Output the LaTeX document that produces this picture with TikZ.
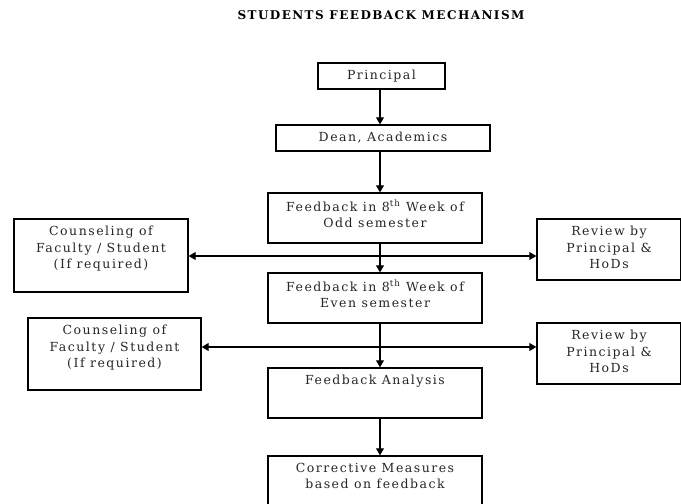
\documentclass[tikz,border=0pt]{standalone}
\usepackage{fontspec}
\setmainfont{DejaVu Serif}[LetterSpace=12]
\usetikzlibrary{arrows.meta}
\pgfdeclarelayer{edgelayer}
\pgfdeclarelayer{nodelayer}
\pgfsetlayers{edgelayer,nodelayer,main}
\tikzstyle{none}=[inner sep=0pt]
\tikzstyle{box}=[rectangle,draw=black,line width=1.4pt,fill=white,inner sep=0pt,text=black!85,font=\fontsize{12.5}{16.5}\selectfont]
\tikzstyle{heading}=[inner sep=0pt,text=black,font=\bfseries\fontsize{12}{12}\selectfont]
\tikzstyle{transition}=[-{Triangle[length=7pt,width=8pt]},draw=black,line width=1.1pt]
\newcommand{\toptext}[3]{\parbox[c][#2pt][t]{#1pt}{\centering\vspace*{7pt}#3}}
\newcommand{\midtext}[3]{\parbox[c][#2pt][c]{#1pt}{\centering #3}}

\begin{document}
\begin{tikzpicture}[x=1pt,y=-1pt]
	\useasboundingbox (0,0) rectangle (681,504);
	\begin{pgfonlayer}{nodelayer}
		\node [style=heading] (t) at (381, 15) {STUDENTS FEEDBACK MECHANISM};
		\node [style=box] (0) at (381.5, 76) {\midtext{127}{26}{Principal}};
		\node [style=box] (1) at (383, 138) {\midtext{214}{26}{Dean, Academics}};
		\node [style=box] (2) at (375, 218) {\toptext{214}{50}{Feedback in 8\textsuperscript{th} Week of\\Odd semester}};
		\node [style=box] (3) at (101, 255.5) {\toptext{174}{73}{Counseling of\\Faculty / Student\\(If required)}};
		\node [style=box] (4) at (609, 249.5) {\toptext{144}{61}{Review by\\Principal \&\\HoDs}};
		\node [style=box] (5) at (375, 298) {\toptext{214}{50}{Feedback in 8\textsuperscript{th} Week of\\Even semester}};
		\node [style=box] (6) at (114.5, 354) {\toptext{173}{72}{Counseling of\\Faculty / Student\\(If required)}};
		\node [style=box] (7) at (609, 353.5) {\toptext{144}{61}{Review by\\Principal \&\\HoDs}};
		\node [style=box] (8) at (375, 393) {\toptext{214}{50}{Feedback Analysis}};
		\node [style=box] (9) at (375, 493) {\toptext{214}{74}{Corrective Measures\\based on feedback}};
		\coordinate (a) at (380, 256);
		\coordinate (b) at (380, 347);
	\end{pgfonlayer}
	\begin{pgfonlayer}{edgelayer}
		\draw [style=transition] (a |- 0.south) to (a |- 1.north);
		\draw [style=transition] (a |- 1.south) to (a |- 2.north);
		\draw [style=transition] (a |- 2.south) to (a |- 5.north);
		\draw [style=transition] (a |- 5.south) to (a |- 8.north);
		\draw [style=transition] (a |- 8.south) to (a |- 9.north);
		\draw [style=transition] (a) to (3.east |- a);
		\draw [style=transition] (a) to (4.west |- a);
		\draw [style=transition] (b) to (6.east |- b);
		\draw [style=transition] (b) to (7.west |- b);
	\end{pgfonlayer}
\end{tikzpicture}
\end{document}
